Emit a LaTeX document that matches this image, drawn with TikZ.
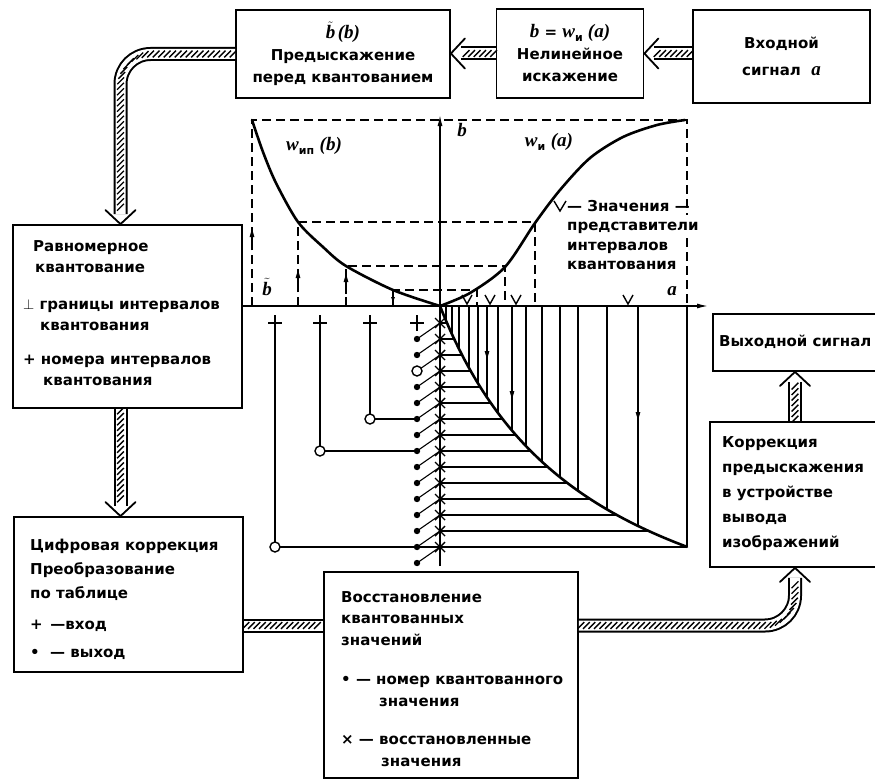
\documentclass[tikz,border=0pt]{standalone}
\usepackage{fontspec}
\setmainfont{DejaVu Sans}
\newfontfamily\varfam{Liberation Serif}
\usetikzlibrary{arrows.meta,calc,decorations.markings}

\newcommand\boxtext{\fontsize{15}{22}\selectfont\bfseries}
\newcommand\ivar[1]{{\varfam\fontsize{19}{22}\selectfont\bfseries\itshape #1}}
\newcommand\lowsub[1]{\raisebox{-4pt}{\fontsize{11}{11}\selectfont\bfseries #1}}
\newcommand\tb{$\tilde{\mbox{\ivar{b}}}$}

\begin{document}
\begin{tikzpicture}[x=1pt,y=-1pt,
  box/.style={draw, line width=1.8pt, inner sep=0pt, font=\boxtext, align=center},
  txt/.style={inner sep=0pt, font=\boxtext, align=left, anchor=north west},
  lbl/.style={inner sep=0pt, font=\fontsize{16}{20}\selectfont\bfseries},
  band/.style={
    preaction={draw=black, line width=14pt},
    preaction={draw=white, line width=10pt},
    postaction={decorate, decoration={markings,
      mark=between positions 2pt and -2pt step 5.5pt with
        {\pgftransformresetnontranslations
         \draw[line width=1.3pt] (-3.4pt,-3.4pt) -- (3.4pt,3.4pt);}}}},
  barb/.style={line width=1.8pt, line cap=round},
  axis/.style={line width=1.3pt},
  thinline/.style={line width=1.1pt},
  curve/.style={line width=2.6pt, line cap=round},
  dashline/.style={line width=1.3pt, dash pattern=on 9pt off 5pt},
  vmark/.style={line width=1.4pt},
  plusmark/.style={line width=1.6pt},
  crossmark/.style={line width=1.4pt},
  ring/.style={line width=1.4pt, fill=white},
  tip/.style={-{Latex[length=10pt,width=5pt]}}
]
\useasboundingbox (0,0) rectangle (875,784);

% ---------- blocks ----------
\node[box, minimum width=214, minimum height=88] (B1) at (343,54)
  {\tb\,\ivar{(b)}\\Предыскажение\\перед квантованием};
\node[box, minimum width=147, minimum height=89] (B2) at (570,53.5)
  {\ivar{b} = \ivar{w}\lowsub{и} \ivar{(a)}\\Нелинейное\\искажение};
\node[box, minimum width=177, minimum height=93,
      font=\fontsize{15}{27}\selectfont\bfseries] (B3) at (781.5,56.5)
  {Входной\\сигнал\ \ \ivar{a}};

\node[box, minimum width=229, minimum height=183] (R1) at (127.5,316.5) {};
\node[txt, font=\fontsize{15}{21}\selectfont\bfseries] (R1t) at (23,240)
  {\hspace{10pt}Равномерное\\\hspace{12pt}квантование\\[16pt]$\perp$ границы интервалов\\\hspace{17pt}квантования\\[13pt]+ номера интервалов\\\hspace{20pt}квантования};

\node[box, minimum width=229, minimum height=155] (C1) at (128.5,594.5) {};
\node[txt, font=\fontsize{15}{24}\selectfont\bfseries] (C1t) at (30,539)
  {Цифровая коррекция\\Преобразование\\по таблице\\[7pt]+ \,—вход\\[4pt]•\ \ — выход};

\node[box, minimum width=254, minimum height=206] (V1) at (451,675) {};
\node[txt, font=\fontsize{15}{21.5}\selectfont\bfseries] (V1t) at (341,591)
  {Восстановление\\квантованных\\значений\\[18pt]• — номер квантованного\\\hspace{38pt}значения\\[17pt]× — восстановленные\\\hspace{40pt}значения};

\node[box, minimum width=170, minimum height=145] (K1) at (795,494.5) {};
\node[txt, font=\fontsize{15}{25}\selectfont\bfseries] (K1t) at (722,436)
  {Коррекция\\предыскажения\\в устройстве\\вывода\\изображений};

\node[box, minimum width=167, minimum height=57] (O1) at (796.5,342.5) {};
\node[txt, anchor=west] (O1t) at (719,342) {Выходной сигнал};

% ---------- hatched signal paths ----------
\path[band] (B2.east -| B3.west) -- ($(B2.east)+(10,0)$);
\draw[barb] ($(B2.east)+(14,-15)$) -- (B2.east) -- ($(B2.east)+(14,15)$);

\coordinate (t1) at (B2.west -| B1.east);
\path[band] (B2.west) -- ($(t1)+(10,0)$);
\draw[barb] ($(t1)+(14,-15)$) -- (t1) -- ($(t1)+(14,15)$);

\coordinate (t2) at ($(R1.north)+(-7,0)$);
\path[band, rounded corners=30pt] (B1.west) -| ($(t2)+(0,-10)$);
\draw[barb] ($(t2)+(-15,-14)$) -- (t2) -- ($(t2)+(15,-14)$);

\coordinate (t3) at ($(C1.north)+(-8,0)$);
\path[band] ($(R1.south)+(-7,0)$) -- ($(t3)+(0,-10)$);
\draw[barb] ($(t3)+(-15,-14)$) -- (t3) -- ($(t3)+(15,-14)$);

\coordinate (cv) at ($(C1.east)+(0,31)$);
\path[band] (cv) -- (cv -| V1.west);

\path[band, rounded corners=30pt] (cv -| V1.east) -| ($(K1.south)+(0,10)$);
\draw[barb] ($(K1.south)+(-15,14)$) -- (K1.south) -- ($(K1.south)+(15,14)$);

\coordinate (t4) at (K1.north |- O1.south);
\path[band] (K1.north) -- ($(t4)+(0,10)$);
\draw[barb] ($(t4)+(-15,14)$) -- (t4) -- ($(t4)+(15,14)$);

% ---------- characteristic curves ----------
\coordinate (O) at (440,306);

% dashed construction lines
\draw[dashline] (252,306) -- (252,120) -- (687,120) -- (687,215);
\draw[dashline] (687,238) -- (687,306);
\draw[dashline] (298,306) -- (298,222) -- (535,222) -- (535,306);
\draw[dashline] (346,306) -- (346,266) -- (505,266) -- (505,306);
\draw[dashline] (393,306) -- (393,290) -- (477,290) -- (477,306);

% mesh under the reconstruction curve
\foreach \k in {0,...,14}{
  \pgfmathsetmacro\hv{17+16*\k}
  \pgfmathsetmacro\hu{154*(\hv/(391-\hv))}
  \draw[thinline] (440,306+\hv) -- (440+\hu,306+\hv);
}
\foreach \xx in {446,452,459,469,478,487,498,512,526,542,560,578,607,638,687}{
  \pgfmathsetmacro\hv{391*((\xx-440)/(\xx-440+154))}
  \draw[thinline] (\xx,306) -- (\xx,306+\hv);
}
\draw[thinline, tip] (487,345) -- (487,361);
\draw[thinline, tip] (512,385) -- (512,401);
\draw[thinline, tip] (638,406) -- (638,422);

% curves
\draw[curve] plot[domain=0:247, samples=80] ({440+\x},{306+391*(\x/(\x+154))});
\draw[curve] plot[smooth] coordinates {(440,306) (470,293) (505,267) (535,223) (560,190) (590,158) (623,137) (657,125) (685,120)};
\draw[curve] plot[smooth] coordinates {(252,120) (263,152) (276,183) (298,222) (323,247) (346,266) (393,290) (440,306)};

% axes
\draw[axis, -{Latex[length=11pt,width=5pt]}] (R1.east |- O) -- (708,306);
\draw[axis, -{Latex[length=11pt,width=5pt]}] (440,566) -- (440,115);

% arrows on the dashed lines
\draw[thinline, tip] (252,250) -- (252,227);
\draw[thinline, tip] (298,292) -- (298,268);
\draw[thinline, tip] (346,294) -- (346,272);
\draw[thinline, -{Latex[length=7pt,width=4pt]}] (393,292) -- (393,304);

% labels
\node[lbl] (lw1) at (314,146) {\ivar{w}\lowsub{ип} \ivar{(b)}};
\node[lbl] (lw2) at (549,142) {\ivar{w}\lowsub{и} \ivar{(a)}};
\node[lbl] (lb) at (462,130) {\ivar{b}};
\node[lbl] (la) at (672,291) {\ivar{a}};
\node[lbl] (lbt) at (267,287) {\tb};

% quantization representatives
\foreach \xx in {467,490,516,628}
  \draw[vmark] (\xx-5,295) -- (\xx,304) -- (\xx+5,295);
\draw[vmark] (554,201) -- (560,211) -- (566,201);
\node[txt, font=\fontsize{15}{19.5}\selectfont\bfseries] (leg) at (567,200)
  {— Значения —\\представители\\интервалов\\квантования};

% interval numbers and table look-up
\foreach \xx in {275,320,370,417}
  \draw[plusmark] (\xx-7,323) -- (\xx+7,323) (\xx,315) -- (\xx,331);
\draw[thinline] (275,323) -- (275,547) -- (440,547);
\draw[thinline] (320,323) -- (320,451) -- (417,451);
\draw[thinline] (370,323) -- (370,419) -- (417,419);

\foreach \k in {0,...,14}{
  \draw[thinline] (417,339+16*\k) -- (440,323+16*\k);
  \ifnum\k=2 \else \fill (417,339+16*\k) circle[radius=3.2pt]; \fi
  \draw[crossmark] (435,318+16*\k) -- (445,328+16*\k) (435,328+16*\k) -- (445,318+16*\k);
}
\draw[ring] (417,371) circle[radius=5pt];
\draw[ring] (275,547) circle[radius=5pt];
\draw[ring] (320,451) circle[radius=5pt];
\draw[ring] (370,419) circle[radius=5pt];
\end{tikzpicture}
\end{document}
